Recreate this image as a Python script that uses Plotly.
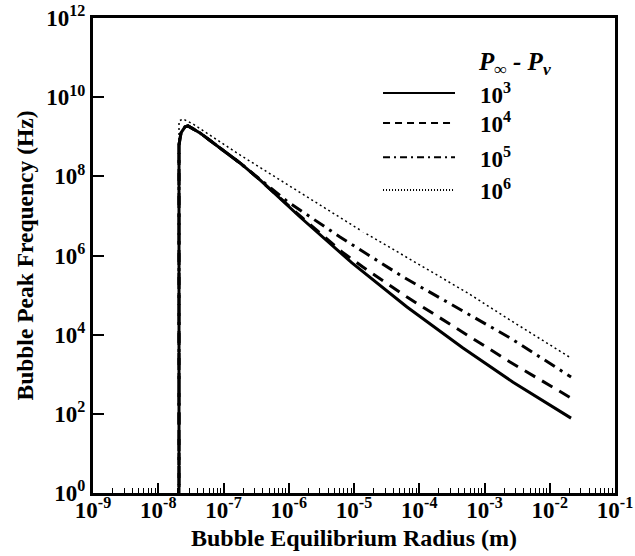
import plotly.graph_objects as go

# Bubble peak frequency vs. equilibrium radius for four pressure differences (Pa)
pressure_labels = ["10<sup>3</sup>", "10<sup>4</sup>", "10<sup>5</sup>", "10<sup>6</sup>"]

radius_1e3 = [2.08e-8, 2.08e-8, 2.23e-8, 2.57e-8, 2.86e-8, 4.36e-8, 8.83e-8, 1.79e-7,
              3.62e-7, 1.49e-6, 9.31e-6, 6.49e-5, 4.68e-4, 2.74e-3, 2.12e-2]
freq_1e3 = [0.5, 6.2e8, 1.25e9, 1.78e9, 1.88e9, 1.25e9, 5.2e8, 2.18e8,
            8.1e7, 9.4e6, 6.5e5, 5.0e4, 4.6e3, 6.3e2, 78]

radius_1e4 = [2.08e-8, 2.08e-8, 2.23e-8, 2.57e-8, 2.86e-8, 4.36e-8, 8.83e-8, 1.79e-7,
              3.62e-7, 1.49e-6, 6.55e-6, 1.37e-5, 6.49e-5, 5.40e-4, 2.46e-3, 2.12e-2]
freq_1e4 = [0.5, 6.2e8, 1.25e9, 1.78e9, 1.88e9, 1.25e9, 5.2e8, 2.18e8,
            8.1e7, 1.0e7, 1.23e6, 5.1e5, 8.9e4, 9.8e3, 2.04e3, 251]

radius_1e5 = [2.08e-8, 2.08e-8, 2.23e-8, 2.57e-8, 2.86e-8, 4.36e-8, 8.83e-8, 1.79e-7,
              9.75e-7, 6.10e-6, 5.64e-5, 6.0e-4, 2.46e-3, 2.12e-2]
freq_1e5 = [0.5, 6.2e8, 1.25e9, 1.78e9, 1.88e9, 1.25e9, 5.2e8, 2.18e8,
            2.24e7, 2.95e6, 2.88e5, 3.16e4, 8.3e3, 851]

radius_1e6 = [2.08e-8, 2.08e-8, 2.39e-8, 3.41e-8, 1.79e-7, 1.24e-5, 5.58e-4, 2.46e-3, 2.12e-2]
freq_1e6 = [0.5, 2.5e9, 2.82e9, 2.1e9, 3.47e8, 4.4e6, 1.12e5, 2.34e4, 2.57e3]

x_tickvals = [10.0 ** e for e in range(-9, 0)]
x_ticktext = [f"10<sup>{e}</sup>" for e in range(-9, 0)]
y_tickvals = [10.0 ** e for e in range(0, 13, 2)]
y_ticktext = [f"10<sup>{e}</sup>" for e in range(0, 13, 2)]

FONT = "Liberation Serif"

# drawing styles: (dash for curve, width, dash for key sample, key width)
styles = [
    ("solid", 3, "solid", 2),
    ("12px,8px", 3, "7px,5px", 2),
    ("12px,6px,3px,6px", 3, "7px,4px,2px,4px", 2),
    ("2px,3px", 1.5, "1px,2px", 2),
]
series = [
    (radius_1e3, freq_1e3),
    (radius_1e4, freq_1e4),
    (radius_1e5, freq_1e5),
    (radius_1e6, freq_1e6),
]

fig = go.Figure()
# draw the lightest curve first so the solid line sits on top
for i in reversed(range(4)):
    r, f = series[i]
    dash, width, _, _ = styles[i]
    fig.add_trace(go.Scatter(
        x=r, y=f, mode="lines", showlegend=False,
        line=dict(color="black", width=width, dash=dash),
    ))

fig.update_layout(
    width=635, height=556,
    margin=dict(l=93, r=20, t=18, b=63),
    paper_bgcolor="white", plot_bgcolor="white",
    font=dict(family=FONT, color="black", size=22, weight="bold"),
    showlegend=False,
)

fig.update_xaxes(
    type="log", range=[-9, -1], automargin=False,
    tickmode="array", tickvals=x_tickvals, ticktext=x_ticktext,
    ticks="inside", ticklen=10, tickwidth=2, tickcolor="black",
    ticklabelstandoff=-6,
    minor=dict(ticks="inside", ticklen=5, tickwidth=1, tickcolor="black", dtick="D1", showgrid=False),
    showline=True, linewidth=3, linecolor="black", mirror=True,
    showgrid=False, zeroline=False,
    tickfont=dict(family=FONT, size=23, weight="bold"),
    title=dict(text="Bubble Equilibrium Radius (m)", standoff=8,
               font=dict(family=FONT, size=24, weight="bold")),
)
fig.update_yaxes(
    type="log", range=[0, 12], automargin=False,
    tickmode="array", tickvals=y_tickvals, ticktext=y_ticktext,
    ticks="inside", ticklen=11, tickwidth=2, tickcolor="black",
    showline=True, linewidth=3, linecolor="black", mirror=True,
    showgrid=False, zeroline=False,
    tickfont=dict(family=FONT, size=23, weight="bold"),
    title=dict(text="Bubble Peak Frequency (Hz)", standoff=7,
               font=dict(family=FONT, size=23.5, weight="bold")),
)

# key box in the upper right
fig.add_shape(type="rect", xref="paper", yref="paper",
              x0=0.515, x1=0.98, y0=0.548, y1=0.975,
              fillcolor="white", line=dict(width=0), layer="above")

fig.add_annotation(
    xref="paper", yref="paper", x=0.733, y=0.905, xanchor="left", yanchor="middle",
    text="<i>P</i><sub>∞</sub><i> - P</i><sub><i>v</i></sub>", showarrow=False,
    font=dict(family=FONT, size=25, weight="bold"),
)
row_y = [0.842, 0.779, 0.707, 0.638]
for i in range(4):
    _, _, kdash, kwidth = styles[i]
    fig.add_shape(type="line", xref="paper", yref="paper",
                  x0=0.5556, x1=0.6935, y0=row_y[i], y1=row_y[i],
                  line=dict(color="black", width=kwidth, dash=kdash), layer="above")
    fig.add_annotation(
        xref="paper", yref="paper", x=0.738, y=row_y[i], xanchor="left", yanchor="middle",
        text=pressure_labels[i], showarrow=False,
        font=dict(family=FONT, size=23, weight="bold"),
    )

fig.write_html("out.html")
